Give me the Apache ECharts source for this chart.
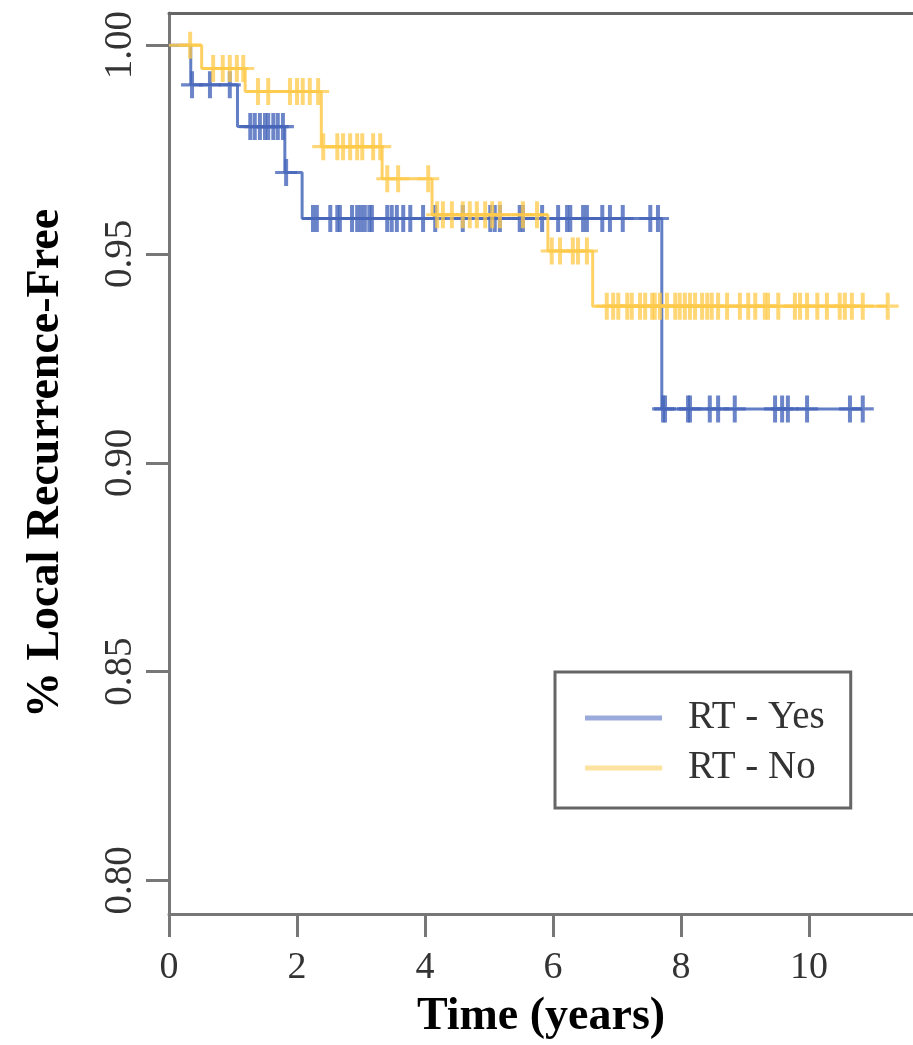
<!DOCTYPE html>
<html>
<head>
<meta charset="utf-8">
<script src="https://cdn.jsdelivr.net/npm/echarts@6/dist/echarts.min.js"></script>
<style>
html,body{margin:0;padding:0;background:#fff;}
#chart{width:913px;height:1045px;}
</style>
</head>
<body>
<div id="chart"></div>
<script>
// ---- data ----
var seriesNames = ['RT - Yes', 'RT - No'];
var xTicks = [0, 2, 4, 6, 8, 10];
var yTicks = [0.80, 0.85, 0.90, 0.95, 1.00];

// RT - Yes (blue)
var yesEventTimes = [0.34, 1.07, 1.81, 2.08, 7.70];
var yesSurvival   = [0.9905, 0.9805, 0.9695, 0.9585, 0.9129];
var yesCensorTimes = [0.36, 0.64, 0.95, 1.27, 1.34, 1.42, 1.50, 1.55, 1.63, 1.70, 1.78, 1.83,
  2.25, 2.31, 2.52, 2.63, 2.67, 2.86, 2.94, 3.00, 3.06, 3.13, 3.17, 3.41, 3.48, 3.56, 3.66,
  3.77, 3.97, 4.16, 4.59, 5.02, 5.09, 5.17, 5.48, 5.53, 5.83, 6.08, 6.22, 6.27, 6.47, 6.53,
  6.77, 6.89, 7.09, 7.52, 7.64, 7.72, 7.75, 8.11, 8.14, 8.45, 8.58, 8.84, 9.47, 9.58, 9.67,
  9.97, 10.64, 10.84];

// RT - No (yellow)
var noEventTimes = [0.51, 1.19, 2.38, 3.33, 4.11, 5.92, 6.62];
var noSurvival   = [0.9944, 0.9889, 0.9757, 0.9680, 0.9594, 0.9507, 0.9375];
var noCensorTimes = [0.33, 0.69, 0.84, 0.95, 1.06, 1.16, 1.39, 1.55, 1.89, 2.00, 2.09, 2.20,
  2.33, 2.41, 2.63, 2.72, 2.83, 2.94, 3.02, 3.19, 3.30, 3.41, 3.58, 4.05, 4.19, 4.28, 4.42,
  4.59, 4.70, 4.81, 4.94, 5.05, 5.17, 5.53, 5.75, 5.98, 6.11, 6.31, 6.39, 6.53, 6.84, 6.94,
  7.02, 7.16, 7.23, 7.36, 7.44, 7.55, 7.59, 7.67, 7.78, 7.91, 7.98, 8.06, 8.14, 8.22, 8.33,
  8.41, 8.48, 8.58, 8.72, 8.92, 9.05, 9.16, 9.31, 9.36, 9.52, 9.78, 9.86, 9.97, 10.13, 10.28,
  10.48, 10.56, 10.67, 10.84, 11.23];

// ---- helpers building the library data from the arrays ----
function survivalAt(t, times, surv) {
  var s = 1;
  for (var i = 0; i < times.length; i++) { if (times[i] <= t) s = surv[i]; }
  return s;
}
function stepData(times, surv, censors) {
  var d = [[0, 1]];
  for (var i = 0; i < times.length; i++) d.push([times[i], surv[i]]);
  var last = censors[censors.length - 1];
  d.push([last, survivalAt(last, times, surv)]);
  return d;
}
function censorData(times, surv, censors) {
  return censors.map(function (t) { return [t, survivalAt(t, times, surv)]; });
}

var BLUE = '#4767BA', YELLOW = '#FFC94A';
var SERIF = '"Liberation Serif", "DejaVu Serif", serif';
var PLUS = 'path://M9,0 h4 v11.5 h9 v3 h-9 v11.5 h-4 v-11.5 h-9 v-3 h9 z';

var chart = echarts.init(document.getElementById('chart'), null, {renderer: 'canvas'});
chart.setOption({
  animation: false,
  backgroundColor: '#fff',
  grid: {left: 169, top: 13, right: 0, bottom: 128, show: false},
  legend: {
    orient: 'vertical',
    left: 555, top: 672,
    padding: [26, 26, 20, 30],
    itemGap: 10,
    itemWidth: 77, itemHeight: 5,
    borderColor: '#666', borderWidth: 3,
    textStyle: {fontFamily: SERIF, fontSize: 39, color: '#333', lineHeight: 40, padding: [0, 0, 0, 21]},
    data: [
      {name: seriesNames[0], icon: 'path://M0,0H77V5H0Z', itemStyle: {color: '#9aabdb'}},
      {name: seriesNames[1], icon: 'path://M0,0H77V5H0Z', itemStyle: {color: '#fde3a0'}}
    ]
  },
  xAxis: [{
    type: 'value', min: 0, max: 11.625, interval: 2,
    name: 'Time (years)', nameLocation: 'middle', nameGap: 80,
    nameTextStyle: {fontFamily: SERIF, fontSize: 46, fontWeight: 'bold', color: '#000'},
    axisLine: {show: true, lineStyle: {color: '#777', width: 3}},
    axisTick: {show: true, length: 23, customValues: xTicks, lineStyle: {color: '#777', width: 3}},
    axisLabel: {fontFamily: SERIF, fontSize: 38, color: '#333', margin: 35, customValues: xTicks},
    splitLine: {show: false}
  }, {
    type: 'value', position: 'top', min: 0, max: 11.625,
    axisLine: {show: true, onZero: false, lineStyle: {color: '#666', width: 3}},
    axisTick: {show: false}, axisLabel: {show: false}, splitLine: {show: false}
  }],
  yAxis: {
    type: 'value', min: 0.79196, max: 1.0077,
    name: '% Local Recurrence-Free', nameLocation: 'middle', nameGap: 100, nameRotate: 90,
    nameTextStyle: {fontFamily: SERIF, fontSize: 46, fontWeight: 'bold', color: '#000'},
    axisLine: {show: true, lineStyle: {color: '#777', width: 3}},
    axisTick: {show: true, length: 23, customValues: yTicks, lineStyle: {color: '#777', width: 3}},
    axisLabel: {
      fontFamily: SERIF, fontSize: 39, color: '#333', margin: 29, rotate: 90,
      customValues: yTicks,
      formatter: function (v) { return v.toFixed(2); }
    },
    splitLine: {show: false}
  },
  series: [
    {
      name: seriesNames[0], type: 'line', step: 'end', showSymbol: false, z: 2,
      data: stepData(yesEventTimes, yesSurvival, yesCensorTimes),
      lineStyle: {color: BLUE, width: 3, opacity: 0.85}, itemStyle: {color: BLUE}
    },
    {
      name: seriesNames[0], type: 'scatter', symbol: PLUS, symbolSize: [22, 27], z: 2,
      data: censorData(yesEventTimes, yesSurvival, yesCensorTimes),
      itemStyle: {color: BLUE, opacity: 0.8}
    },
    {
      name: seriesNames[1], type: 'line', step: 'end', showSymbol: false, z: 3,
      data: stepData(noEventTimes, noSurvival, noCensorTimes),
      lineStyle: {color: YELLOW, width: 3, opacity: 0.85}, itemStyle: {color: YELLOW}
    },
    {
      name: seriesNames[1], type: 'scatter', symbol: PLUS, symbolSize: [22, 27], z: 3,
      data: censorData(noEventTimes, noSurvival, noCensorTimes),
      itemStyle: {color: YELLOW, opacity: 0.75}
    }
  ]
});
</script>
</body>
</html>
